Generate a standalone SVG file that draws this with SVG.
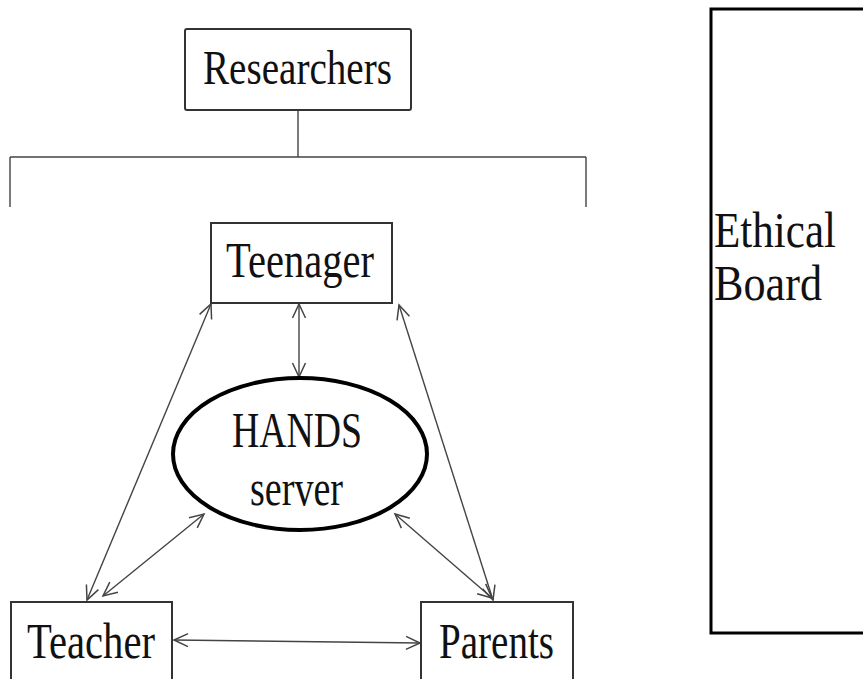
<svg xmlns="http://www.w3.org/2000/svg" width="863" height="679" viewBox="0 0 863 679">
<style>
.box{fill:#fff;stroke:#333;stroke-width:2}
.lbl{fill:#111;font-family:'Liberation Serif','Times New Roman',Times,'DejaVu Serif',serif}
.con{stroke:#444;stroke-width:1.4;fill:none}
</style>
<defs>
<marker id="ah" markerUnits="userSpaceOnUse" markerWidth="18" markerHeight="16" refX="15" refY="8" orient="auto-start-reverse" viewBox="0 0 18 16">
<path d="M1,1.5 L15,8 L1,14.5" fill="none" stroke="#444" stroke-width="1.5"/>
</marker>
</defs>
<rect width="863" height="679" fill="#fff"/>
<g id="connectors">
<path class="con" d="M298,110 V157 M10,157 H586 M10,157 V207 M586,157 V207"/>
<line class="con" x1="299" y1="304" x2="299" y2="377" marker-start="url(#ah)" marker-end="url(#ah)"/>
<line class="con" x1="211" y1="304" x2="87" y2="600" marker-start="url(#ah)" marker-end="url(#ah)"/>
<line class="con" x1="399" y1="305" x2="493" y2="600" marker-start="url(#ah)" marker-end="url(#ah)"/>
<line class="con" x1="204" y1="514" x2="103" y2="596" marker-start="url(#ah)" marker-end="url(#ah)"/>
<line class="con" x1="395" y1="514" x2="492" y2="598" marker-start="url(#ah)" marker-end="url(#ah)"/>
<line class="con" x1="174" y1="640" x2="420" y2="643" marker-start="url(#ah)" marker-end="url(#ah)"/>
</g>
<g id="researchers">
<rect class="box" x="185" y="29" width="226" height="81" rx="2"/>
<text class="lbl" x="203" y="84" font-size="48" textLength="189" lengthAdjust="spacingAndGlyphs">Researchers</text>
</g>
<g id="teenager">
<rect class="box" x="211" y="223" width="181" height="80"/>
<text class="lbl" x="226" y="277" font-size="50" textLength="148" lengthAdjust="spacingAndGlyphs">Teenager</text>
</g>
<g id="hands-server">
<ellipse cx="300" cy="454" rx="127" ry="76" fill="#fff" stroke="#000" stroke-width="4"/>
<text class="lbl" x="232" y="447" font-size="50" textLength="130" lengthAdjust="spacingAndGlyphs">HANDS</text>
<text class="lbl" x="250" y="505" font-size="50" textLength="93" lengthAdjust="spacingAndGlyphs">server</text>
</g>
<g id="teacher">
<rect class="box" x="11" y="602" width="161" height="100"/>
<text class="lbl" x="27" y="658" font-size="50" textLength="128" lengthAdjust="spacingAndGlyphs">Teacher</text>
</g>
<g id="parents">
<rect class="box" x="421" y="602" width="152" height="100"/>
<text class="lbl" x="439" y="658" font-size="50" textLength="115" lengthAdjust="spacingAndGlyphs">Parents</text>
</g>
<g id="ethical-board">
<rect x="711" y="9" width="200" height="624" fill="#fff" stroke="#000" stroke-width="3"/>
<text class="lbl" x="714" y="247" font-size="50" textLength="122" lengthAdjust="spacingAndGlyphs">Ethical</text>
<text class="lbl" x="714" y="300" font-size="50" textLength="108" lengthAdjust="spacingAndGlyphs">Board</text>
</g>
</svg>
